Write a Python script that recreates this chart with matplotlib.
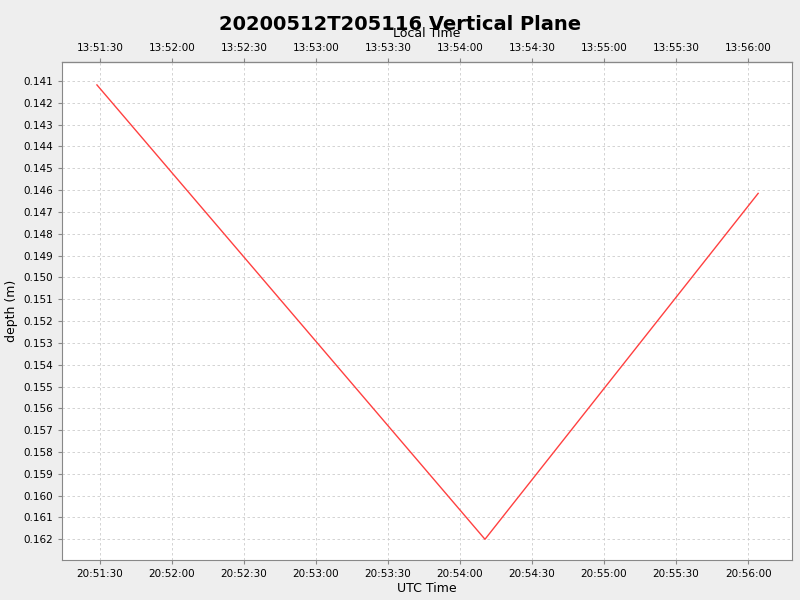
import matplotlib
matplotlib.use('Agg')
import matplotlib.pyplot as plt
from matplotlib.ticker import FuncFormatter, MultipleLocator

# seconds after 20:51:00 UTC
t_sec = [28.75, 190.4, 304.2]
depth = [0.14118, 0.16200, 0.14615]
BASE_H, BASE_M = 20, 51
LOCAL_OFFSET_H = -7


def fmt_time(s, offset_h=0):
    total = int(round(s)) + (BASE_H + offset_h) * 3600 + BASE_M * 60
    total %= 86400
    return f"{total // 3600:02d}:{(total % 3600) // 60:02d}:{total % 60:02d}"


fig = plt.figure(figsize=(8, 6), dpi=100, facecolor='#eeeeee')
ax = fig.add_axes([62/800, 40/600, 730/800, 498/600])
ax.set_facecolor('white')
ax.plot(t_sec, depth, color='#ff4040', lw=1)

ax.set_xlim(14.2, 318.3)
ax.set_ylim(0.16295, 0.14013)
ax.xaxis.set_major_locator(MultipleLocator(30))
ax.yaxis.set_major_locator(MultipleLocator(0.001))
ax.xaxis.set_major_formatter(FuncFormatter(lambda v, p: fmt_time(v)))
ax.yaxis.set_major_formatter(FuncFormatter(lambda v, p: f"{v:.3f}"))
ax.grid(True, color='#cccccc', ls=(0, (3, 3)), lw=0.6)
ax.tick_params(labelsize=7.5, length=3, color='#888888')
for s in ax.spines.values():
    s.set_color('#888888')
ax.set_xlabel('UTC Time', fontsize=9, labelpad=2)
ax.set_ylabel('depth (m)', fontsize=9)

top = ax.secondary_xaxis('top')
top.xaxis.set_major_locator(MultipleLocator(30))
top.xaxis.set_major_formatter(FuncFormatter(lambda v, p: fmt_time(v, LOCAL_OFFSET_H)))
top.tick_params(labelsize=7.5, length=3, color='#888888')
top.set_xlabel('Local Time', fontsize=9, labelpad=4)

fig.suptitle('20200512T205116 Vertical Plane', fontsize=14, fontweight='bold', y=0.975)
fig.savefig('out.png', dpi=100, facecolor=fig.get_facecolor())
